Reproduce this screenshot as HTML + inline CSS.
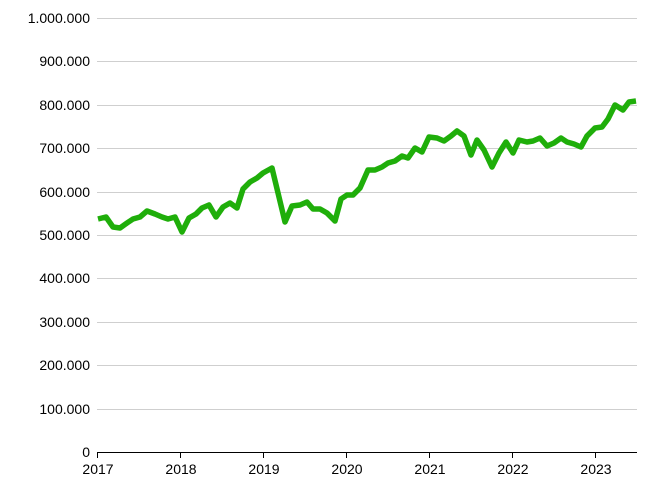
<!DOCTYPE html>
<html><head><style>body{margin:0;background:#fff}</style></head><body>
<svg width="656" height="492" xmlns="http://www.w3.org/2000/svg" font-family="Liberation Sans, sans-serif" font-size="14">
<g stroke="#cfcfcf" stroke-width="1">
<line x1="97" x2="637" y1="18.5" y2="18.5"/><line x1="97" x2="637" y1="61.5" y2="61.5"/><line x1="97" x2="637" y1="105.5" y2="105.5"/><line x1="97" x2="637" y1="148.5" y2="148.5"/><line x1="97" x2="637" y1="192.5" y2="192.5"/><line x1="97" x2="637" y1="235.5" y2="235.5"/><line x1="97" x2="637" y1="278.5" y2="278.5"/><line x1="97" x2="637" y1="322.5" y2="322.5"/><line x1="97" x2="637" y1="365.5" y2="365.5"/><line x1="97" x2="637" y1="409.5" y2="409.5"/>
</g>
<line x1="97" x2="637" y1="452.5" y2="452.5" stroke="#000" stroke-width="1"/>
<g stroke="#000"><line x1="97.5" x2="97.5" y1="452" y2="458"/><line x1="180.5" x2="180.5" y1="452" y2="458"/><line x1="263.5" x2="263.5" y1="452" y2="458"/><line x1="346.5" x2="346.5" y1="452" y2="458"/><line x1="429.5" x2="429.5" y1="452" y2="458"/><line x1="512.5" x2="512.5" y1="452" y2="458"/><line x1="595.5" x2="595.5" y1="452" y2="458"/></g>
<g text-anchor="end" fill="#000">
<text x="90" y="23">1.000.000</text><text x="90" y="66">900.000</text><text x="90" y="110">800.000</text><text x="90" y="153">700.000</text><text x="90" y="197">600.000</text><text x="90" y="240">500.000</text><text x="90" y="283">400.000</text><text x="90" y="327">300.000</text><text x="90" y="370">200.000</text><text x="90" y="414">100.000</text><text x="90" y="457">0</text>
</g>
<g text-anchor="middle" fill="#000">
<text x="98" y="474">2017</text><text x="181" y="474">2018</text><text x="264" y="474">2019</text><text x="347" y="474">2020</text><text x="430" y="474">2021</text><text x="513" y="474">2022</text><text x="596" y="474">2023</text>
</g>
<polyline fill="none" stroke="#1fae0a" stroke-width="5.5" stroke-linejoin="round" points="98,219 106,217 113,227 120,228 127,223 133,219 140,217 147,211 155,214 162,217 168,219 175,217 182,232 189,218 196,214 202,208 209,205 216,217 223,207 230,203 237,208 243,189 250,182 257,178 263,173 272,168 285,222 292,206 300,205 307,202 313,209 320,209 327,213 335,221 341,199 347,195 353,195 360,188 368,170 375,170 382,167 388,163 395,161 402,156 408,158 415,148 422,152 429,137 437,138 444,141 451,136 457,131 464,136 471,155 477,140 484,150 492,167 499,153 506,142 513,153 519,140 527,142 533,141 540,138 547,146 554,143 561,138 567,142 574,144 581,147 587,136 595,128 602,127 608,119 615,105 623,110 629,102 636,101"/>
</svg>
</body></html>
